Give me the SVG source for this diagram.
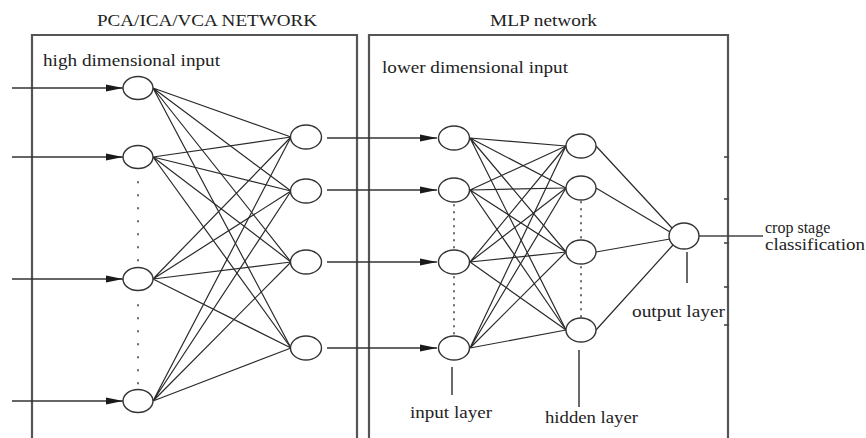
<svg xmlns="http://www.w3.org/2000/svg" width="866" height="438" viewBox="0 0 866 438">
  <defs>
    <marker id="arrow" markerUnits="userSpaceOnUse" markerWidth="18" markerHeight="9" refX="17" refY="4.5" orient="auto">
      <path d="M0,1 L17,4.5 L0,8 z" fill="#1a1a1a"/>
    </marker>
    <style>
      .frame { fill: none; stroke: #555; stroke-width: 2.2; }
      .tick { stroke: #444; stroke-width: 1.6; }
      .node { fill: #fff; stroke: #333; stroke-width: 1.4; }
      .edge { stroke: #2a2a2a; stroke-width: 1.2; fill: none; }
      .arrow { stroke: #333; stroke-width: 1.6; fill: none; marker-end: url(#arrow); }
      .lead { stroke: #444; stroke-width: 1.6; fill: none; }
      .dots { stroke: #666; stroke-width: 2; stroke-linecap: round; fill: none; }
      .label { font-family: "Liberation Serif", "Times New Roman", serif; font-size: 16px; fill: #222; }
    </style>
  </defs>
  <rect width="866" height="438" fill="#fff"/>

  <!-- network frames -->
  <g id="pca-frame">
    <path class="frame" d="M32,445 V35 H357 V445"/>
    <text class="label" x="97" y="26" textLength="220" lengthAdjust="spacingAndGlyphs">PCA/ICA/VCA NETWORK</text>
    <text class="label" x="43" y="66" textLength="177" lengthAdjust="spacingAndGlyphs">high dimensional input</text>
  </g>
  <g id="mlp-frame">
    <path class="frame" d="M369,445 V35 H728 V445"/>
    <line class="tick" x1="724" y1="157" x2="729" y2="157"/>
    <line class="tick" x1="724" y1="199" x2="729" y2="199"/>
    <line class="tick" x1="724" y1="243" x2="729" y2="243"/>
    <line class="tick" x1="724" y1="287" x2="729" y2="287"/>
    <line class="tick" x1="724" y1="325" x2="729" y2="325"/>
    <text class="label" x="490" y="26" textLength="107" lengthAdjust="spacingAndGlyphs">MLP network</text>
    <text class="label" x="382" y="73" textLength="186" lengthAdjust="spacingAndGlyphs">lower dimensional input</text>
  </g>

  <!-- connectors -->
  <g id="connectors">
    <!-- external inputs -->
    <line class="arrow" x1="12" y1="88" x2="123" y2="88"/>
    <line class="arrow" x1="12" y1="157" x2="123" y2="157"/>
    <line class="arrow" x1="12" y1="279" x2="123" y2="279"/>
    <line class="arrow" x1="12" y1="401" x2="123" y2="401"/>

    <!-- PCA layer, fully connected -->
    <path class="edge" d="M153,88 L291,137 M153,88 L291,191 M153,88 L291,262 M153,88 L291,348"/>
    <path class="edge" d="M153,157 L291,137 M153,157 L291,191 M153,157 L291,262 M153,157 L291,348"/>
    <path class="edge" d="M153,279 L291,137 M153,279 L291,191 M153,279 L291,262 M153,279 L291,348"/>
    <path class="edge" d="M153,401 L291,137 M153,401 L291,191 M153,401 L291,262 M153,401 L291,348"/>

    <!-- reduced features into MLP -->
    <line class="arrow" x1="327" y1="138" x2="437" y2="138"/>
    <line class="arrow" x1="327" y1="190" x2="437" y2="190"/>
    <line class="arrow" x1="327" y1="262" x2="437" y2="262"/>
    <line class="arrow" x1="327" y1="348" x2="437" y2="348"/>

    <!-- input to hidden, fully connected -->
    <path class="edge" d="M470,138 L566,146 M470,138 L566,188 M470,138 L566,252 M470,138 L566,330"/>
    <path class="edge" d="M470,190 L566,146 M470,190 L566,188 M470,190 L566,252 M470,190 L566,330"/>
    <path class="edge" d="M470,262 L566,146 M470,262 L566,188 M470,262 L566,252 M470,262 L566,330"/>
    <path class="edge" d="M470,348 L566,146 M470,348 L566,188 M470,348 L566,252 M470,348 L566,330"/>

    <!-- hidden to output -->
    <path class="edge" d="M596,146 L672,228 M596,188 L670,232 M596,252 L670,239 M596,330 L673,245"/>

    <!-- classification output -->
    <line class="lead" x1="699" y1="236" x2="763" y2="236"/>

    <!-- omitted-unit dots -->
    <path class="dots" stroke-dasharray="0.5 12.5" d="M138,182 V268 M138,305 V390"/>
    <path class="dots" stroke-dasharray="0.5 6.5" d="M454,205 V250 M454,277 V336"/>
    <path class="dots" stroke-dasharray="0.5 6.5" d="M581,202 V240 M581,267 V318"/>

    <!-- layer label leaders -->
    <line class="lead" x1="452" y1="367" x2="452" y2="395"/>
    <line class="lead" x1="579" y1="350" x2="579" y2="407"/>
    <line class="lead" x1="687" y1="252" x2="687" y2="283"/>
  </g>

  <!-- PCA input units -->
  <g id="pca-in-1"><ellipse class="node" cx="138" cy="88" rx="15" ry="11.5"/></g>
  <g id="pca-in-2"><ellipse class="node" cx="138" cy="157" rx="15" ry="11.5"/></g>
  <g id="pca-in-3"><ellipse class="node" cx="138" cy="279" rx="15" ry="11.5"/></g>
  <g id="pca-in-4"><ellipse class="node" cx="138" cy="401" rx="15" ry="11.5"/></g>

  <!-- PCA output units -->
  <g id="pca-out-1"><ellipse class="node" cx="306" cy="137" rx="15.5" ry="12"/></g>
  <g id="pca-out-2"><ellipse class="node" cx="306" cy="191" rx="15.5" ry="12"/></g>
  <g id="pca-out-3"><ellipse class="node" cx="306" cy="262" rx="15.5" ry="12"/></g>
  <g id="pca-out-4"><ellipse class="node" cx="306" cy="348" rx="15.5" ry="12"/></g>

  <!-- MLP input layer -->
  <g id="mlp-in-1"><ellipse class="node" cx="454" cy="138" rx="15.5" ry="12"/></g>
  <g id="mlp-in-2"><ellipse class="node" cx="454" cy="190" rx="15.5" ry="12"/></g>
  <g id="mlp-in-3"><ellipse class="node" cx="454" cy="262" rx="15.5" ry="12"/></g>
  <g id="mlp-in-4"><ellipse class="node" cx="454" cy="348" rx="15.5" ry="12"/></g>

  <!-- MLP hidden layer -->
  <g id="mlp-hid-1"><ellipse class="node" cx="581" cy="146" rx="15" ry="12"/></g>
  <g id="mlp-hid-2"><ellipse class="node" cx="581" cy="188" rx="15" ry="12"/></g>
  <g id="mlp-hid-3"><ellipse class="node" cx="581" cy="252" rx="15" ry="12"/></g>
  <g id="mlp-hid-4"><ellipse class="node" cx="581" cy="330" rx="15" ry="12"/></g>

  <!-- MLP output unit -->
  <g id="mlp-out"><ellipse class="node" cx="684" cy="236" rx="15" ry="13"/></g>

  <!-- layer captions -->
  <g id="caption-input"><text class="label" x="410" y="418" textLength="82" lengthAdjust="spacingAndGlyphs">input layer</text></g>
  <g id="caption-hidden"><text class="label" x="545" y="423" textLength="93" lengthAdjust="spacingAndGlyphs">hidden layer</text></g>
  <g id="caption-output"><text class="label" x="632" y="317" textLength="93" lengthAdjust="spacingAndGlyphs">output layer</text></g>
  <g id="caption-result">
    <text class="label" x="765" y="233">crop stage</text>
    <text class="label" x="765" y="250" textLength="100" lengthAdjust="spacingAndGlyphs">classification</text>
  </g>
</svg>
